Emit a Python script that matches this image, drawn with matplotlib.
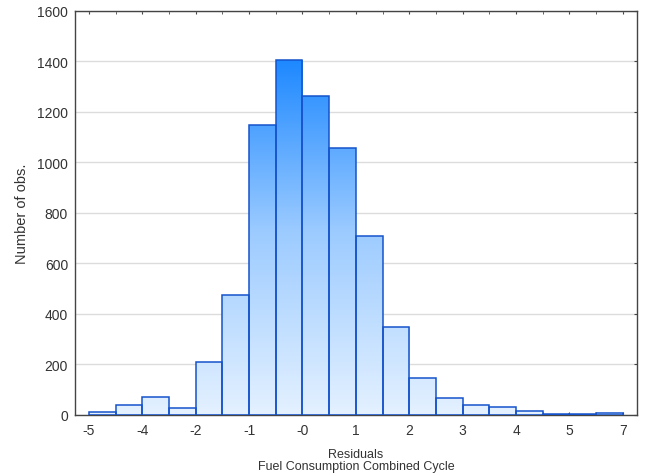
import matplotlib
matplotlib.use("Agg")
import matplotlib.pyplot as plt
from matplotlib.colors import LinearSegmentedColormap
import numpy as np

plt.rcParams['font.family'] = ['Liberation Sans', 'DejaVu Sans']

# histogram counts, 20 bins
counts = [12, 40, 72, 28, 208, 475, 1147, 1406, 1262, 1059,
          709, 348, 147, 68, 40, 31, 17, 4, 3, 7]
tick_labels = ["-5", "-4", "-2", "-1", "-0", "1", "2", "3", "4", "5", "7"]
y_ticks = [0, 200, 400, 600, 800, 1000, 1200, 1400, 1600]

fig = plt.figure(figsize=(6.47, 4.77), dpi=100)
ax = fig.add_axes([0.116, 0.128, 0.868, 0.847])

cmap = LinearSegmentedColormap.from_list("blues", ["#e4f1ff", "#9ccbff", "#1584ff"])
grad = np.linspace(0, 1, 256).reshape(-1, 1)

x = np.arange(len(counts)) + 0.5
bars = ax.bar(x, counts, width=1.0, facecolor="none", edgecolor="#1553cc",
              linewidth=1.1, zorder=3)
for b in bars:
    im = ax.imshow(grad, cmap=cmap, origin="lower", aspect="auto",
                   extent=[0, 20, 0, 1450], vmin=0, vmax=1, zorder=2)
    im.set_clip_path(b)

ax.set_xlim(-0.52, 20.52)
ax.set_ylim(0, 1600)
ax.set_xticks(np.arange(0, 21, 2))
ax.set_xticks(np.arange(0, 21, 1), minor=True)
ax.set_xticklabels(tick_labels)
ax.set_yticks(y_ticks)
ax.grid(axis="y", color="#dcdcdc", linewidth=1, zorder=0)
ax.set_axisbelow(True)

ax.tick_params(axis="x", which="both", direction="in", length=2.5, top=True,
               labelsize=10, colors="#444444", labelcolor="#333333", pad=6)
ax.tick_params(axis="y", direction="in", length=2.5, right=True, left=False,
               labelsize=10, colors="#444444", labelcolor="#333333", pad=5)
for s in ax.spines.values():
    s.set_color("#444444")
    s.set_linewidth(1)

ax.set_xlabel("Residuals\nFuel Consumption Combined Cycle", fontsize=9, color="#333333",
              labelpad=8, linespacing=1.0)
ax.set_ylabel("Number of obs.", fontsize=10.5, color="#333333", labelpad=6)

fig.savefig("out.png", dpi=100)
